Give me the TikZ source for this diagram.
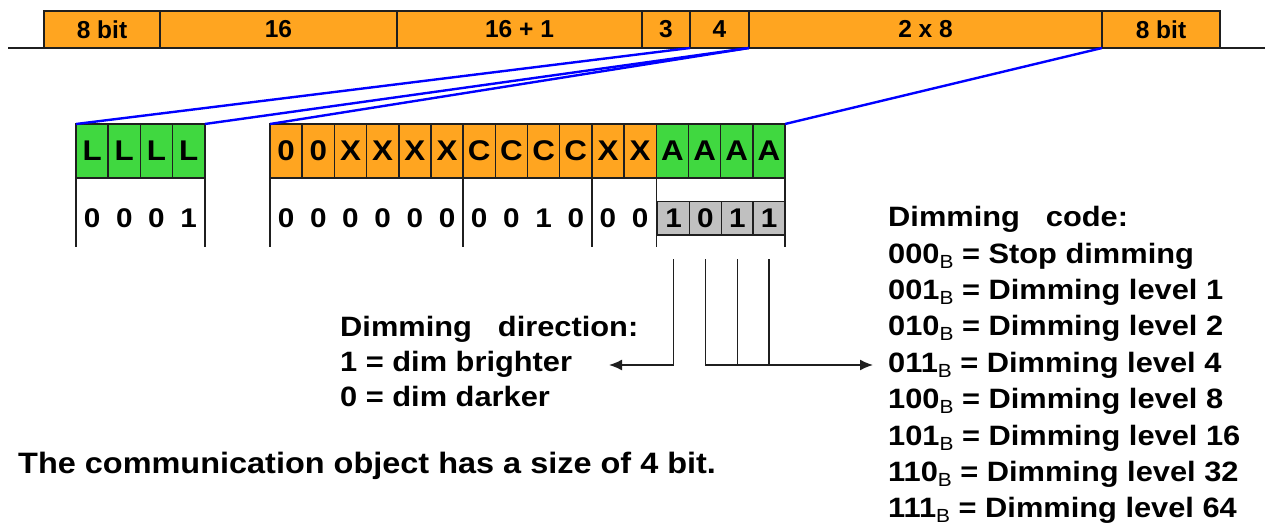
\documentclass[tikz,border=0pt]{standalone}
\usepackage{fontspec}
\setmainfont{Liberation Sans}
\newfontfamily\wide{Liberation Sans}[FakeStretch=1.1]
\usetikzlibrary{arrows.meta,calc}
\definecolor{fieldorange}{RGB}{255,165,32}
\definecolor{fieldgreen}{RGB}{64,216,64}
\definecolor{bitgray}{RGB}{192,192,192}
% binary marker after a code value
\newcommand\binB{\raisebox{-5pt}{\fontsize{19}{19}\selectfont\mdseries B}}

\begin{document}
\begin{tikzpicture}[x=1pt,y=-1pt,
  frame/.style={draw=black!88, line width=1.5pt},
  field/.style={frame, fill=fieldorange, minimum height=37pt, inner sep=0pt, outer sep=0pt,
    anchor=north west, font=\fontsize{24.5}{28}\selectfont\bfseries},
  cellbase/.style={frame, minimum width=32.19pt, minimum height=54pt, inner sep=0pt, outer sep=0pt,
    anchor=north west, font=\wide\fontsize{28.5}{30}\selectfont\bfseries},
  cello/.style={cellbase, fill=fieldorange},
  cellg/.style={cellbase, fill=fieldgreen},
  bitval/.style={inner sep=0pt, font=\wide\fontsize{27}{28}\selectfont\bfseries},
  bitbox/.style={frame, fill=bitgray, minimum width=31.83pt, minimum height=33.3pt, inner sep=0pt,
    outer sep=0pt, anchor=north west, font=\wide\fontsize{27}{28}\selectfont\bfseries},
  txt/.style={inner sep=0pt, anchor=base west, font=\wide\fontsize{28}{32}\selectfont\bfseries},
  bigtxt/.style={inner sep=0pt, anchor=base west, font=\wide\fontsize{29.5}{34}\selectfont\bfseries},
  zoomline/.style={draw=blue, line width=2.4pt},
  pointer/.style={draw=black!88, line width=1.5pt},
  tip/.style={-{Latex[length=13pt,width=11pt]}}
]
\useasboundingbox (0,0) rectangle (1270,527);

% telegram frame
\coordinate (busL) at (8,48);
\coordinate (busR) at (1265,48);
\node[field, minimum width=116pt] (f1) at (44,11) {8 bit};
\node[field, minimum width=237pt] (f2) at (160,11) {16};
\node[field, minimum width=245pt] (f3) at (397,11) {16 + 1};
\node[field, minimum width=48pt]  (f4) at (642,11) {3};
\node[field, minimum width=59pt]  (f5) at (690,11) {4};
\node[field, minimum width=353pt] (f6) at (749,11) {2 x 8};
\node[field, minimum width=118pt] (f7) at (1102,11) {8 bit};
\draw[frame] (busL) -- (f1.south west);
\draw[frame] (f7.south east) -- (busR);

% length field
\foreach \i in {1,...,4}
  \node[cellg] (L\i) at ({76+(\i-1)*32.19},124) {L};

% data field
\foreach \t [count=\i] in {0,0,X,X,X,X,C,C,C,C,X,X}
  \node[cello] (c\i) at ({270+(\i-1)*32.19},124) {\t};
\foreach \i in {13,...,16}
  \node[cellg] (c\i) at ({270+(\i-1)*32.19},124) {A};

% group separators below the cells
\foreach \a in {L1.south west, L4.south east, c1.south west, c6.south east,
                c10.south east, c12.south east, c16.south east}
  \draw[frame] (\a) -- ++(0,69);

% bit values
\foreach \v [count=\i] in {0,0,0,1}
  \node[bitval] (lv\i) at ($(L\i.center)+(0,67)$) {\v};
\foreach \v [count=\i] in {0,0,0,0,0,0,0,0,1,0,0,0}
  \node[bitval] (cv\i) at ($(c\i.center)+(0,67)$) {\v};
\foreach \v [count=\i] in {1,0,1,1}
  \node[bitbox] (g\i) at ({657.7+(\i-1)*31.83},201.7) {\v};

% zoom lines from the frame fields
\draw[zoomline] (f5.south west) -- (L1.north west);
\draw[zoomline] (f5.south east) -- (L4.north east);
\draw[zoomline] (f6.south west) -- (c1.north west);
\draw[zoomline] (f6.south east) -- (c16.north east);

% pointers to the explanations
\foreach \i in {1,...,4}
  \coordinate (s\i) at ($(g\i.south)+(0,24)$);
\coordinate (dirEnd) at (609,365);
\coordinate (codeEnd) at (873,365);
\draw[pointer, tip] (s1) |- (dirEnd);
\draw[pointer, tip] (s2) |- (codeEnd);
\draw[pointer] (s3) -- (s3 |- codeEnd);
\draw[pointer] (s4) -- (s4 |- codeEnd);

% dimming direction
\node[txt] (dirhead) at (340,336) {Dimming\hspace{26pt}direction:};
\node[txt] (dir1) at (340,371.5) {1 = dim brighter};
\node[txt] (dir0) at (340,406) {0 = dim darker};

% dimming code
\node[txt] (codehead) at (888,226) {Dimming\hspace{26pt}code:};
\foreach \c/\m [count=\i] in {000/Stop dimming, 001/Dimming level 1, 010/Dimming level 2,
    011/Dimming level 4, 100/Dimming level 8, 101/Dimming level 16,
    110/Dimming level 32, 111/Dimming level 64}
  \node[txt] (code\i) at (888,{263+(\i-1)*36.4}) {\c\binB\ = \m};

% note
\node[bigtxt] (note) at (18,473) {The communication object has a size of 4 bit.};
\end{tikzpicture}
\end{document}
